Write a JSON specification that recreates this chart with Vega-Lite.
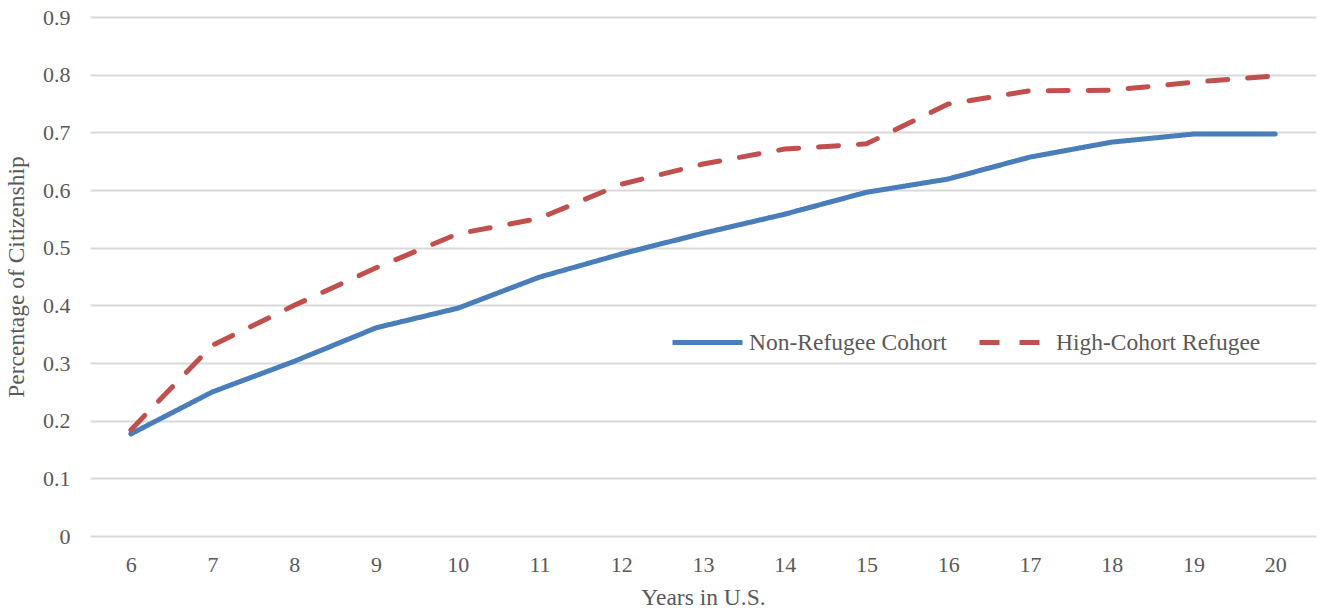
{
  "$schema": "https://vega.github.io/schema/vega-lite/v6.json",
  "width": 1226,
  "height": 519,
  "autosize": {"type": "none"},
  "padding": {"left": 90, "top": 17, "right": 8, "bottom": 78},
  "background": "white",
  "config": {
    "view": {"stroke": null},
    "font": "Liberation Serif",
    "axis": {"labelFont": "Liberation Serif", "titleFont": "Liberation Serif", "labelColor": "#595959", "titleColor": "#595959", "labelFontSize": 22, "titleFontSize": 23.5, "titleFontWeight": "normal"},
    "legend": {"labelFont": "Liberation Serif", "labelColor": "#595959", "labelFontSize": 23.5, "labelLimit": 400}
  },
  "data": {
    "values": [
      {"year": 6, "series": "Non-Refugee Cohort", "value": 0.177},
      {"year": 7, "series": "Non-Refugee Cohort", "value": 0.250},
      {"year": 8, "series": "Non-Refugee Cohort", "value": 0.303},
      {"year": 9, "series": "Non-Refugee Cohort", "value": 0.361},
      {"year": 10, "series": "Non-Refugee Cohort", "value": 0.395},
      {"year": 11, "series": "Non-Refugee Cohort", "value": 0.449},
      {"year": 12, "series": "Non-Refugee Cohort", "value": 0.489},
      {"year": 13, "series": "Non-Refugee Cohort", "value": 0.525},
      {"year": 14, "series": "Non-Refugee Cohort", "value": 0.558},
      {"year": 15, "series": "Non-Refugee Cohort", "value": 0.596},
      {"year": 16, "series": "Non-Refugee Cohort", "value": 0.619},
      {"year": 17, "series": "Non-Refugee Cohort", "value": 0.657},
      {"year": 18, "series": "Non-Refugee Cohort", "value": 0.683},
      {"year": 19, "series": "Non-Refugee Cohort", "value": 0.697},
      {"year": 20, "series": "Non-Refugee Cohort", "value": 0.697},
      {"year": 6, "series": "High-Cohort Refugee", "value": 0.184},
      {"year": 7, "series": "High-Cohort Refugee", "value": 0.331},
      {"year": 8, "series": "High-Cohort Refugee", "value": 0.400},
      {"year": 9, "series": "High-Cohort Refugee", "value": 0.465},
      {"year": 10, "series": "High-Cohort Refugee", "value": 0.524},
      {"year": 11, "series": "High-Cohort Refugee", "value": 0.551},
      {"year": 12, "series": "High-Cohort Refugee", "value": 0.610},
      {"year": 13, "series": "High-Cohort Refugee", "value": 0.645},
      {"year": 14, "series": "High-Cohort Refugee", "value": 0.671},
      {"year": 15, "series": "High-Cohort Refugee", "value": 0.680},
      {"year": 16, "series": "High-Cohort Refugee", "value": 0.749},
      {"year": 17, "series": "High-Cohort Refugee", "value": 0.772},
      {"year": 18, "series": "High-Cohort Refugee", "value": 0.773},
      {"year": 19, "series": "High-Cohort Refugee", "value": 0.787},
      {"year": 20, "series": "High-Cohort Refugee", "value": 0.798}
    ]
  },
  "mark": {"type": "line", "strokeWidth": 5, "strokeCap": "round", "strokeJoin": "round"},
  "encoding": {
    "x": {
      "field": "year", "type": "ordinal",
      "scale": {"type": "point", "padding": 0.5},
      "axis": {"title": "Years in U.S.", "labelAngle": 0, "ticks": false, "domain": false, "grid": false, "labelPadding": 18, "titlePadding": 10}
    },
    "y": {
      "field": "value", "type": "quantitative",
      "scale": {"domain": [0, 0.9]},
      "axis": {"title": "Percentage of Citizenship", "values": [0, 0.1, 0.2, 0.3, 0.4, 0.5, 0.6, 0.7, 0.8, 0.9], "format": ".1~f", "ticks": false, "domain": false, "gridColor": "#d9d9d9", "gridWidth": 2, "labelPadding": 20, "titlePadding": 14}
    },
    "color": {
      "field": "series", "type": "nominal",
      "scale": {"domain": ["Non-Refugee Cohort", "High-Cohort Refugee"], "range": ["#4a7ebb", "#c0504d"]},
      "legend": {"title": null, "orient": "none", "legendX": 580, "legendY": 288, "direction": "horizontal", "columns": 2, "symbolType": "stroke", "symbolSize": 4900, "symbolStrokeWidth": 5, "labelOffset": 4, "columnPadding": 22}
    },
    "strokeDash": {
      "field": "series", "type": "nominal",
      "scale": {"domain": ["Non-Refugee Cohort", "High-Cohort Refugee"], "range": [[1, 0], [20, 20]]},
      "legend": null
    }
  }
}
